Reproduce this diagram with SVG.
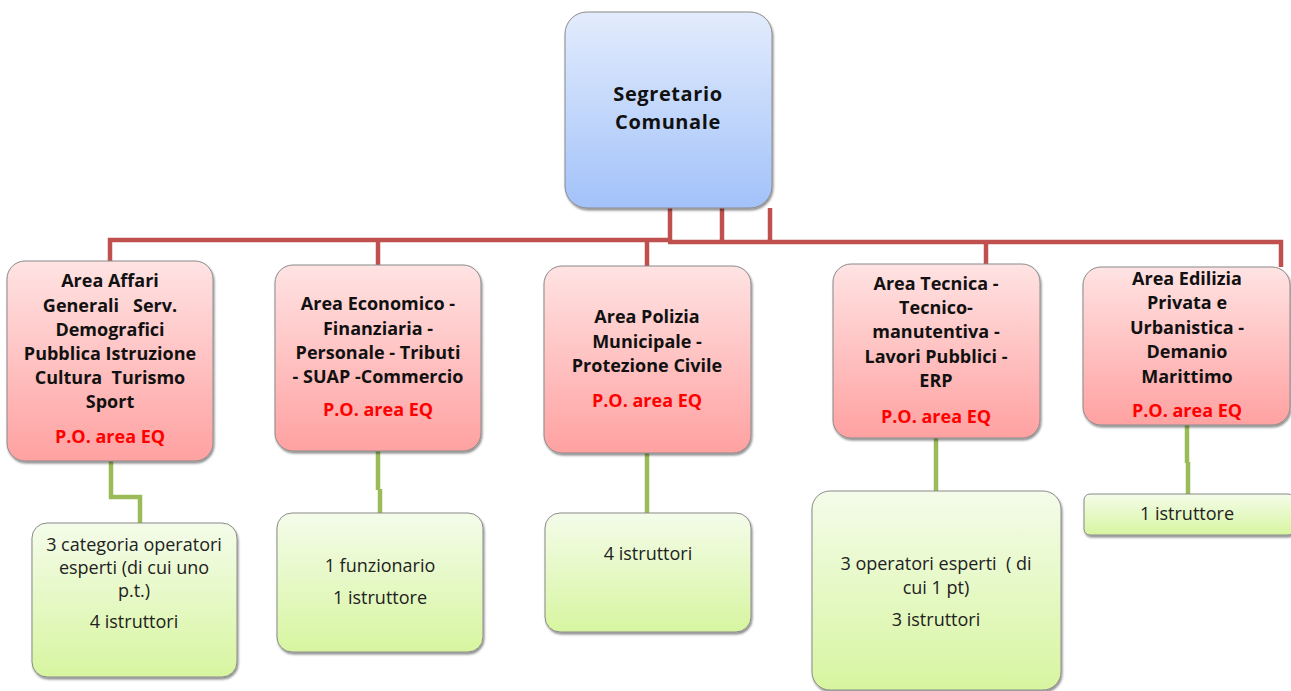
<svg xmlns="http://www.w3.org/2000/svg" width="1291" height="691" viewBox="0 0 1291 691">
<defs>
<linearGradient id="gBlue" x1="0" y1="0" x2="0" y2="1"><stop offset="0" stop-color="#E3ECFD"/><stop offset="1" stop-color="#A2C2F9"/></linearGradient>
<linearGradient id="gRed" x1="0" y1="0" x2="0" y2="1"><stop offset="0" stop-color="#FFE3E3"/><stop offset="1" stop-color="#FFA1A1"/></linearGradient>
<linearGradient id="gGreen" x1="0" y1="0" x2="0" y2="1"><stop offset="0" stop-color="#F4FCEA"/><stop offset="1" stop-color="#D7F5A0"/></linearGradient>
<filter id="sh" x="-5%" y="-5%" width="115%" height="115%"><feDropShadow dx="1" dy="2" stdDeviation="1.2" flood-color="#000" flood-opacity="0.45"/></filter>
</defs>
<style>
.box{stroke:#8a8a8a;stroke-width:1;filter:url(#sh)}
.blue{fill:url(#gBlue)}
.red{fill:url(#gRed)}
.green{fill:url(#gGreen)}
.t{font-family:"Open Sans","Liberation Sans",sans-serif;font-size:18px;font-weight:bold;fill:#111;text-anchor:middle;white-space:pre}
.top{font-size:20px;letter-spacing:0.6px}
.po{fill:#FF0000}
.n{font-family:"Open Sans","Liberation Sans",sans-serif;font-size:18px;fill:#222;text-anchor:middle;white-space:pre}
.rc{fill:none;stroke:#C0504D;stroke-width:4.5}
.gc{fill:none;stroke:#9BBB59;stroke-width:4.5}
</style>
<rect width="1291" height="691" fill="#fff"/>
<g id="connectors">
<path class="rc" d="M110,261 V240 H670"/>
<path class="rc" d="M668,242 H1281 V267"/>
<path class="rc" d="M378,240 V265"/>
<path class="rc" d="M647,242 V266"/>
<path class="rc" d="M986,242 V264"/>
<path class="rc" d="M670,208 V242"/>
<path class="rc" d="M722,208 V242"/>
<path class="rc" d="M770,208 V242"/>
<path class="gc" d="M111,461 V497 H140 V523"/>
<path class="gc" d="M378,451 V490 M380,489 V513"/>
<path class="gc" d="M647,453 V513"/>
<path class="gc" d="M936,438 V491"/>
<path class="gc" d="M1187,425 V463 M1188,462 V494"/>
</g>
<g id="segretario">
<rect class="box blue" x="565" y="12" width="207" height="196" rx="22"/>
<text class="t top" x="668" y="101">Segretario</text>
<text class="t top" x="668" y="129">Comunale</text>
</g>
<g id="area-affari">
<rect class="box red" x="7" y="261" width="206" height="200" rx="18"/>
<text class="t" x="110" y="287">Area Affari</text>
<text class="t" x="110" y="312">Generali   Serv.</text>
<text class="t" x="110" y="336">Demografici</text>
<text class="t" x="110" y="360">Pubblica Istruzione</text>
<text class="t" x="110" y="384">Cultura  Turismo</text>
<text class="t" x="110" y="408">Sport</text>
<text class="t po" x="110" y="443">P.O. area EQ</text>
</g>
<g id="area-economico">
<rect class="box red" x="275" y="265" width="206" height="186" rx="18"/>
<text class="t" x="378" y="310">Area Economico -</text>
<text class="t" x="378" y="335">Finanziaria -</text>
<text class="t" x="378" y="359">Personale - Tributi</text>
<text class="t" x="378" y="383">- SUAP -Commercio</text>
<text class="t po" x="378" y="416">P.O. area EQ</text>
</g>
<g id="area-polizia">
<rect class="box red" x="544" y="266" width="207" height="187" rx="18"/>
<text class="t" x="647" y="323">Area Polizia</text>
<text class="t" x="647" y="348">Municipale -</text>
<text class="t" x="647" y="372">Protezione Civile</text>
<text class="t po" x="647" y="407">P.O. area EQ</text>
</g>
<g id="area-tecnica">
<rect class="box red" x="833" y="264" width="207" height="174" rx="18"/>
<text class="t" x="936" y="290">Area Tecnica -</text>
<text class="t" x="936" y="314">Tecnico-</text>
<text class="t" x="936" y="338">manutentiva -</text>
<text class="t" x="936" y="363">Lavori Pubblici -</text>
<text class="t" x="936" y="387">ERP</text>
<text class="t po" x="936" y="423">P.O. area EQ</text>
</g>
<g id="area-edilizia">
<rect class="box red" x="1083" y="267" width="207" height="158" rx="18"/>
<text class="t" x="1187" y="285">Area Edilizia</text>
<text class="t" x="1187" y="309">Privata e</text>
<text class="t" x="1187" y="334">Urbanistica -</text>
<text class="t" x="1187" y="358">Demanio</text>
<text class="t" x="1187" y="383">Marittimo</text>
<text class="t po" x="1187" y="417">P.O. area EQ</text>
</g>
<g id="staff-affari">
<rect class="box green" x="32" y="523" width="205" height="154" rx="15"/>
<text class="n" x="134" y="551">3 categoria operatori</text>
<text class="n" x="134" y="574">esperti (di cui uno</text>
<text class="n" x="134" y="597">p.t.)</text>
<text class="n" x="134" y="628">4 istruttori</text>
</g>
<g id="staff-economico">
<rect class="box green" x="277" y="513" width="206" height="139" rx="15"/>
<text class="n" x="380" y="572">1 funzionario</text>
<text class="n" x="380" y="604">1 istruttore</text>
</g>
<g id="staff-polizia">
<rect class="box green" x="545" y="513" width="206" height="119" rx="15"/>
<text class="n" x="648" y="560">4 istruttori</text>
</g>
<g id="staff-tecnica">
<rect class="box green" x="812" y="491" width="249" height="199" rx="18"/>
<text class="n" x="936" y="570">3 operatori esperti  ( di</text>
<text class="n" x="936" y="594">cui 1 pt)</text>
<text class="n" x="936" y="626">3 istruttori</text>
</g>
<g id="staff-edilizia">
<rect class="box green" x="1084" y="494" width="210" height="41" rx="6"/>
<text class="n" x="1187" y="520">1 istruttore</text>
</g>
</svg>
